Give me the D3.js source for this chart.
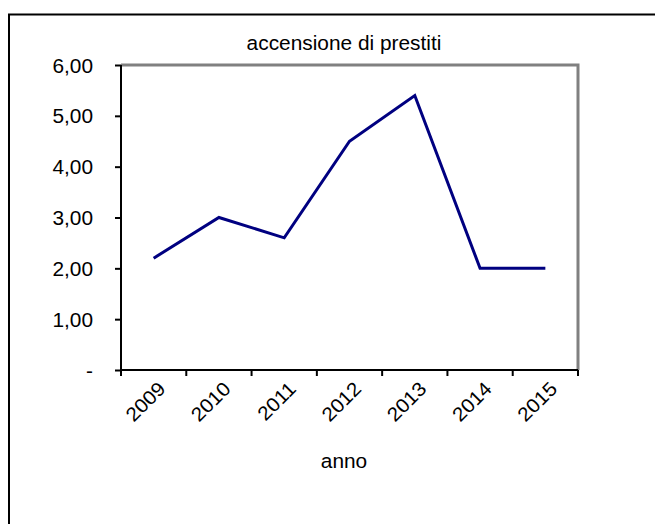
<!DOCTYPE html>
<html>
<head>
<meta charset="utf-8">
<title></title>
<script src="https://cdnjs.cloudflare.com/ajax/libs/d3/7.8.5/d3.min.js"></script>
<style>
	body { margin: 0; background: #fff; }
	text { font-family: Arial, "Liberation Sans", sans-serif; fill: #000; }
</style>
</head>
<body>
<div id="chart"></div>
<script type="text/javascript">
var anni = ['2009', '2010', '2011', '2012', '2013', '2014', '2015'];
var valori = [2.2, 3.0, 2.6, 4.5, 5.4, 2.0, 2.0];
var yTicks = [0, 1, 2, 3, 4, 5, 6];
var yLabels = ['-', '1,00', '2,00', '3,00', '4,00', '5,00', '6,00'];

var width = 655, height = 524;
var plot = { left: 121, right: 578, top: 65, bottom: 370 };
var fontSize = 19.5;
var stretch = 'scale(1.07,1)';

var svg = d3.select('#chart')
	.append('svg')
		.attr('width', width)
		.attr('height', height);

// outer frame, runs off right and bottom edges
svg.append('rect')
	.attr('x', 9).attr('y', 14.5)
	.attr('width', 700).attr('height', 600)
	.attr('fill', 'none')
	.attr('stroke', '#000')
	.attr('stroke-width', 2);

var x = d3.scaleBand()
	.domain(anni)
	.range([plot.left, plot.right]);

var y = d3.scaleLinear()
	.domain([0, 6])
	.range([plot.bottom, plot.top]);

// gray top / right border
svg.append('path')
	.attr('d', 'M' + plot.left + ',' + plot.top + 'H' + plot.right + 'V' + plot.bottom)
	.attr('fill', 'none')
	.attr('stroke', '#808080')
	.attr('stroke-width', 3);

// y axis
var yAxis = svg.append('g')
	.attr('transform', 'translate(' + plot.left + ',0)')
	.call(d3.axisLeft(y).tickValues(yTicks).tickSize(6).tickFormat(''));
yAxis.select('.domain').attr('stroke', '#000').attr('stroke-width', 2).attr('d', 'M0,' + plot.top + 'V' + plot.bottom);
yAxis.selectAll('.tick line').attr('stroke', '#000').attr('stroke-width', 2);

svg.selectAll('.ylab')
	.data(yTicks)
	.enter()
	.append('text')
		.attr('class', 'ylab')
		.attr('text-anchor', 'end')
		.attr('font-size', fontSize)
		.attr('transform', function(d){ return 'translate(93,' + (y(d) + 7.5) + ') ' + stretch; })
		.text(function(d, i){ return yLabels[i]; });

// x axis, ticks on category boundaries
var bounds = anni.map(function(d){ return x(d); }).concat([plot.right]);
var xAxis = svg.append('g');
xAxis.append('line')
	.attr('x1', plot.left - 1).attr('x2', plot.right)
	.attr('y1', plot.bottom).attr('y2', plot.bottom)
	.attr('stroke', '#000').attr('stroke-width', 2);
xAxis.selectAll('.xtick')
	.data(bounds)
	.enter()
	.append('line')
		.attr('x1', function(d){ return d; }).attr('x2', function(d){ return d; })
		.attr('y1', plot.bottom).attr('y2', plot.bottom + 6)
		.attr('stroke', '#000').attr('stroke-width', 2);

svg.selectAll('.xlab')
	.data(anni)
	.enter()
	.append('text')
		.attr('class', 'xlab')
		.attr('text-anchor', 'end')
		.attr('font-size', fontSize)
		.attr('transform', function(d){
			return 'translate(' + (x(d) + x.bandwidth() / 2 + 13) + ',' + (plot.bottom + 20) + ') rotate(-45) ' + stretch;
		})
		.text(function(d){ return d; });

// series line
var line = d3.line()
	.x(function(d, i){ return x(anni[i]) + x.bandwidth() / 2; })
	.y(function(d){ return y(d); });

svg.append('path')
	.datum(valori)
	.attr('d', line)
	.attr('fill', 'none')
	.attr('stroke', '#000080')
	.attr('stroke-width', 3)
	.attr('stroke-linejoin', 'miter');

// titles
svg.append('text')
	.attr('text-anchor', 'middle')
	.attr('font-size', fontSize)
	.attr('transform', 'translate(344,50) ' + stretch)
	.text('accensione di prestiti');

svg.append('text')
	.attr('text-anchor', 'middle')
	.attr('font-size', fontSize)
	.attr('transform', 'translate(344,468) ' + stretch)
	.text('anno');
</script>
</body>
</html>
